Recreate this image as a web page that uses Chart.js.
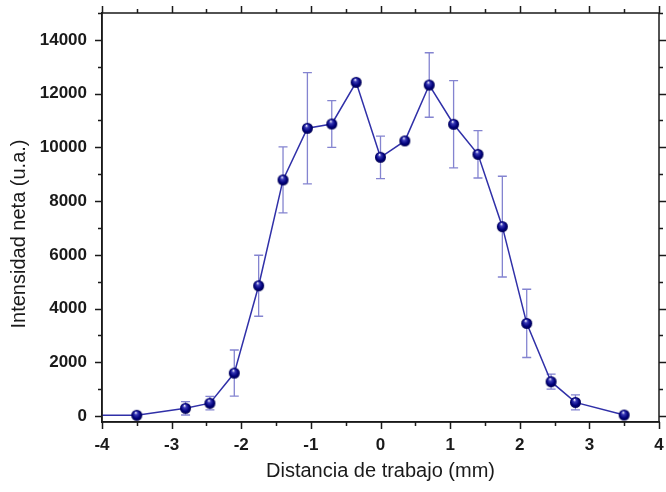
<!DOCTYPE html>
<html>
<head>
<meta charset="utf-8">
<script src="https://cdn.jsdelivr.net/npm/chart.js@4.4.1/dist/chart.umd.min.js"></script>
<style>
  html, body { margin: 0; padding: 0; background: #fff; }
  #wrap { width: 666px; height: 492px; position: relative; }
</style>
</head>
<body>
<div id="wrap"><canvas id="myChart"></canvas></div>
<script>
// distancia (mm), intensidad neta (u.a.) y su error
const distancias = [-4.2, -3.5, -2.8, -2.45, -2.1, -1.75, -1.4, -1.05, -0.7, -0.35, 0, 0.35, 0.7, 1.05, 1.4, 1.75, 2.1, 2.45, 2.8, 3.5];
const intensidad = [30, 30, 290, 480, 1600, 4850, 8790, 10710, 10870, 12420, 9630, 10240, 12320, 10860, 9740, 7050, 3450, 1280, 510, 40];
const errores = [0, 0, 250, 250, 860, 1135, 1230, 2070, 870, 0, 790, 0, 1200, 1625, 880, 1875, 1270, 280, 280, 0];
const xTicks = [-4, -3, -2, -1, 0, 1, 2, 3, 4];
const yTicks = [0, 2000, 4000, 6000, 8000, 10000, 12000, 14000];

const FONT = 'Arial, "Liberation Sans", sans-serif';
const AXIS = '#1a1a1a';

// marker tipo esfera
function makeBall(r) {
    const c = document.createElement('canvas');
    c.width = c.height = r * 2 + 2;
    const g = c.getContext('2d');
    const cx = r + 1, cy = r + 1;
    const grad = g.createRadialGradient(cx - r * 0.2, cy - r * 0.5, 0.3, cx, cy, r);
    grad.addColorStop(0, '#f4f4ff');
    grad.addColorStop(0.25, '#3a3ab8');
    grad.addColorStop(0.7, '#00007a');
    grad.addColorStop(1, '#000050');
    g.fillStyle = grad;
    g.beginPath();
    g.arc(cx, cy, r, 0, Math.PI * 2);
    g.fill();
    return c;
}
const ball = makeBall(5.5);

const errorBars = {
    id: 'errorBars',
    beforeDatasetsDraw(chart) {
        const {ctx, scales: {x, y}, chartArea} = chart;
        ctx.save();
        ctx.beginPath();
        ctx.rect(chartArea.left, chartArea.top, chartArea.width, chartArea.height);
        ctx.clip();
        ctx.strokeStyle = 'rgba(110,110,200,0.85)';
        ctx.lineWidth = 1.3;
        distancias.forEach((d, i) => {
            const e = errores[i];
            if (!e) return;
            const px = x.getPixelForValue(d);
            const top = y.getPixelForValue(intensidad[i] + e);
            const bot = y.getPixelForValue(intensidad[i] - e);
            ctx.beginPath();
            ctx.moveTo(px, top); ctx.lineTo(px, bot);
            ctx.moveTo(px - 4.5, top); ctx.lineTo(px + 4.5, top);
            ctx.moveTo(px - 4.5, bot); ctx.lineTo(px + 4.5, bot);
            ctx.stroke();
        });
        ctx.restore();
    }
};

const frame = {
    id: 'frame',
    afterDraw(chart) {
        const {ctx, scales: {x, y}, chartArea: a} = chart;
        ctx.save();
        ctx.strokeStyle = AXIS;
        ctx.lineWidth = 1.5;
        ctx.strokeRect(a.left, a.top, a.right - a.left, a.bottom - a.top);
        ctx.beginPath();
        for (let v = -4; v <= 4.001; v += 0.5) {
            const px = Math.round(x.getPixelForValue(v)) + 0.5;
            const len = Number.isInteger(v) ? 7 : 4;
            ctx.moveTo(px, a.bottom); ctx.lineTo(px, a.bottom + len);
            ctx.moveTo(px, a.top); ctx.lineTo(px, a.top - len);
        }
        for (let v = 0; v <= 15000; v += 1000) {
            const py = Math.round(y.getPixelForValue(v)) + 0.5;
            const len = v % 2000 === 0 ? 7 : 4;
            ctx.moveTo(a.left, py); ctx.lineTo(a.left - len, py);
            ctx.moveTo(a.right, py); ctx.lineTo(a.right + len, py);
        }
        ctx.stroke();

        // titulos de ejes
        ctx.fillStyle = '#1a1a1a';
        ctx.font = '20px ' + FONT;
        ctx.textAlign = 'center';
        ctx.textBaseline = 'middle';
        ctx.fillText('Distancia de trabajo (mm)', (a.left + a.right) / 2, 471);
        ctx.translate(19, 234);
        ctx.rotate(-Math.PI / 2);
        ctx.fillText('Intensidad neta (u.a.)', 0, 0);
        ctx.restore();
    }
};

const ctx = document.getElementById('myChart');

new Chart(ctx, {
    type: 'line',
    data: {
        datasets: [{
            data: distancias.map((d, i) => ({x: d, y: intensidad[i]})),
            borderColor: '#3030a8',
            borderWidth: 1.5,
            tension: 0,
            pointStyle: ball,
            pointRadius: 5.5,
            pointHoverRadius: 5.5,
        }]
    },
    options: {
        responsive: true,
        maintainAspectRatio: false,
        animation: false,
        layout: {padding: {top: 13, right: 6, left: 0, bottom: 0}},
        plugins: {legend: {display: false}, tooltip: {enabled: false}},
        scales: {
            x: {
                type: 'linear',
                min: -4,
                max: 4,
                afterBuildTicks: s => { s.ticks = xTicks.map(v => ({value: v})); },
                afterFit: s => { s.height = 70; s.paddingLeft = 0; s.paddingRight = 0; },
                grid: {drawOnChartArea: false, tickLength: 7, tickColor: 'transparent'},
                border: {display: true, color: AXIS, width: 1.5},
                ticks: {
                    color: '#1a1a1a',
                    font: {family: FONT, size: 17, weight: 'bold'},
                    padding: 6,
                    maxRotation: 0,
                    callback: v => String(v),
                }
            },
            y: {
                type: 'linear',
                min: -220,
                max: 15000,
                afterBuildTicks: s => { s.ticks = yTicks.map(v => ({value: v})); },
                afterFit: s => { s.width = 102; s.paddingTop = 0; s.paddingBottom = 0; },
                grid: {drawOnChartArea: false, tickLength: 7, tickColor: 'transparent'},
                border: {display: true, color: AXIS, width: 1.5},
                ticks: {
                    color: '#1a1a1a',
                    font: {family: FONT, size: 17, weight: 'bold'},
                    padding: 8,
                    callback: v => String(v),
                }
            }
        }
    },
    plugins: [errorBars, frame]
});
</script>
</body>
</html>
